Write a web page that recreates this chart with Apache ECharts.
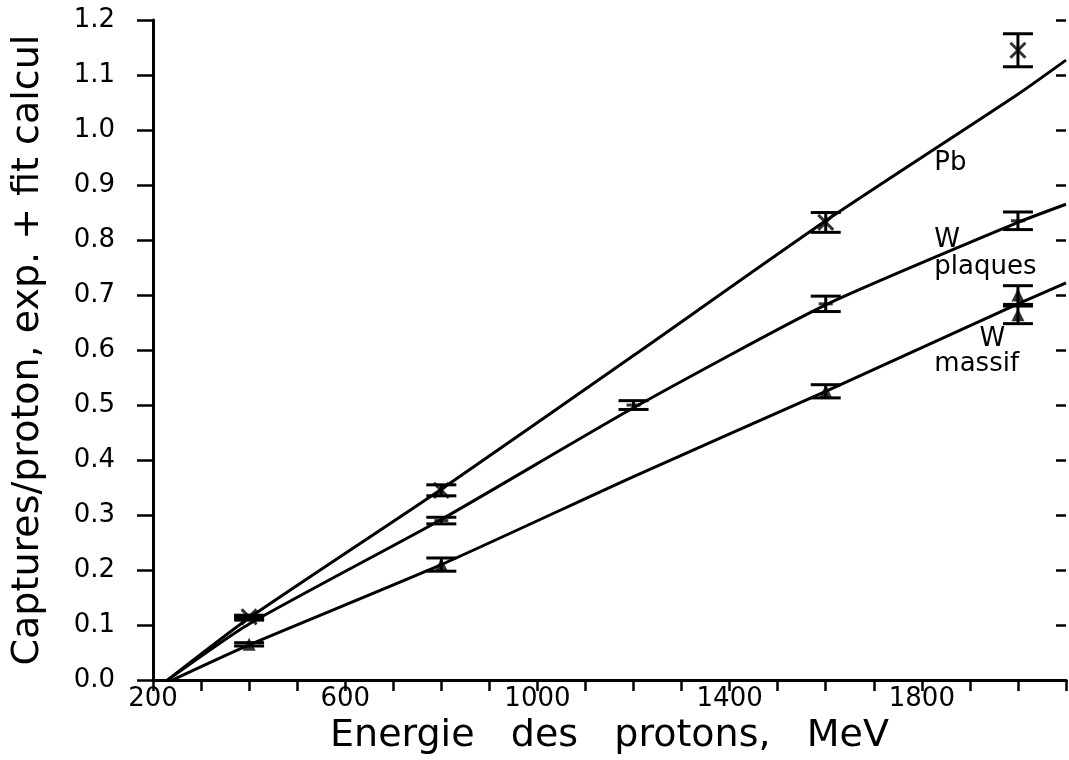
<!DOCTYPE html>
<html>
<head>
<meta charset="utf-8">
<script src="https://cdn.jsdelivr.net/npm/echarts@6/dist/echarts.min.js"></script>
<style>
  html, body { margin: 0; padding: 0; background: #fff; }
  #chart { width: 1069px; height: 760px; }
</style>
</head>
<body>
<div id="chart"></div>
<script>
// fitted curves (calcul)
var pbFitE = [230, 400, 800, 1200, 1600, 2000, 2100];
var pbFit = [0, 0.113, 0.347, 0.59, 0.835, 1.065, 1.127];
var plaqFitE = [230, 400, 800, 1200, 1600, 2000, 2100];
var plaqFit = [0, 0.102, 0.292, 0.495, 0.682, 0.832, 0.865];
var massFitE = [240, 400, 800, 1200, 1600, 2000, 2100];
var massFit = [0, 0.064, 0.21, 0.37, 0.525, 0.684, 0.722];

// measured points (exp.) with half error
var pbE = [400, 800, 1600, 2000];
var pbY = [0.115, 0.345, 0.832, 1.145];
var pbErr = [0.003, 0.01, 0.018, 0.03];
var plaqE = [400, 800, 1200, 1600, 2000];
var plaqY = [0.112, 0.29, 0.50, 0.684, 0.835];
var plaqErr = [0.003, 0.006, 0.008, 0.014, 0.016];
var massE = [400, 800, 1600, 2000, 2000];
var massY = [0.065, 0.21, 0.525, 0.70, 0.664];
var massErr = [0.003, 0.012, 0.012, 0.017, 0.016];

// curve labels
var tagText = ['Pb', 'W', 'plaques', 'W', 'massif'];
var tagE = [1826, 1826, 1826, 1920, 1826];
var tagY = [0.94, 0.80, 0.751, 0.619, 0.574];

var font = 'DejaVu Sans, sans-serif';
var ink = '#000';

function pairs(xs, ys) {
  return xs.map(function(x, i) { return [x, ys[i]]; });
}
function bars(xs, ys, es) {
  return xs.map(function(x, i) { return [x, ys[i] - es[i], ys[i] + es[i]]; });
}

function errorBar(params, api) {
  var x = api.value(0);
  var top = api.coord([x, api.value(2)]);
  var bot = api.coord([x, api.value(1)]);
  var half = 15;
  var st = { stroke: ink, lineWidth: 3 };
  return {
    type: 'group',
    children: [
      { type: 'line', shape: { x1: top[0], y1: top[1], x2: bot[0], y2: bot[1] }, style: st },
      { type: 'line', shape: { x1: top[0] - half, y1: top[1], x2: top[0] + half, y2: top[1] }, style: st },
      { type: 'line', shape: { x1: bot[0] - half, y1: bot[1], x2: bot[0] + half, y2: bot[1] }, style: st }
    ]
  };
}

function tagItem(params, api) {
  var p = api.coord([api.value(0), api.value(1)]);
  return {
    type: 'text', x: p[0], y: p[1],
    style: {
      text: tagText[params.dataIndex], fill: ink, font: '26px ' + font,
      textAlign: 'left', textVerticalAlign: 'middle'
    }
  };
}

function fitLine(xs, ys) {
  return {
    type: 'line', data: pairs(xs, ys), symbol: 'none', smooth: 0.2,
    lineStyle: { color: ink, width: 3 }, z: 3
  };
}
function errSeries(xs, ys, es) {
  return { type: 'custom', renderItem: errorBar, data: bars(xs, ys, es), z: 4 };
}

var axisLineStyle = { lineStyle: { color: ink, width: 3 } };

var chart = echarts.init(document.getElementById('chart'), null, { renderer: 'canvas' });
chart.setOption({
  animation: false,
  backgroundColor: '#fff',
  grid: { left: 153, right: 0, top: 20, bottom: 77, containLabel: false },
  xAxis: [{
    type: 'value', position: 'bottom', min: 200, max: 2100, interval: 100,
    axisLine: axisLineStyle,
    axisTick: { inside: false, length: 11, lineStyle: { color: ink, width: 2.5 } },
    axisLabel: {
      margin: 6, fontSize: 26, color: ink, fontFamily: font,
      formatter: function(v) { return (v - 200) % 400 === 0 && v < 2100 ? String(v) : ''; }
    },
    splitLine: { show: false },
    name: 'Energie   des   protons,   MeV', nameLocation: 'middle', nameGap: 33,
    nameTextStyle: { fontSize: 38, color: ink, fontFamily: font }
  }, {
    type: 'value', position: 'top', min: 200, max: 2100, interval: 100,
    axisLine: axisLineStyle,
    axisTick: { inside: true, length: 8, lineStyle: { color: ink, width: 2.5 } },
    axisLabel: { show: false },
    splitLine: { show: false }
  }],
  yAxis: [{
    type: 'value', position: 'left', min: 0, max: 1.2, interval: 0.1,
    axisLine: { show: true, lineStyle: { color: ink, width: 3 } },
    axisTick: { inside: false, length: 16, lineStyle: { color: ink, width: 2.5 } },
    axisLabel: {
      margin: 38, fontSize: 26, color: ink, fontFamily: font,
      formatter: function(v) { return v.toFixed(1); }
    },
    splitLine: { show: false },
    name: 'Captures/proton, exp. + fit calcul', nameLocation: 'middle', nameGap: 106,
    nameTextStyle: { fontSize: 38, color: ink, fontFamily: font }
  }, {
    type: 'value', position: 'right', min: 0, max: 1.2, interval: 0.1,
    axisLine: { show: false },
    axisTick: { show: true, inside: true, length: 10, lineStyle: { color: ink, width: 2.5 } },
    axisLabel: { show: false },
    splitLine: { show: false }
  }],
  series: [
    fitLine(pbFitE, pbFit),
    fitLine(plaqFitE, plaqFit),
    fitLine(massFitE, massFit),
    errSeries(pbE, pbY, pbErr),
    errSeries(plaqE, plaqY, plaqErr),
    errSeries(massE, massY, massErr),
    {
      type: 'scatter', data: pairs(pbE, pbY), z: 5,
      symbol: 'path://M0,0L10,10M10,0L0,10', symbolSize: 15,
      itemStyle: { color: 'none', borderColor: ink, borderWidth: 3 }
    },
    {
      type: 'scatter', data: pairs(plaqE, plaqY), z: 5,
      symbol: 'rect', symbolSize: [14, 3],
      itemStyle: { color: ink }
    },
    {
      type: 'scatter', data: pairs(massE, massY), z: 5,
      symbol: 'triangle', symbolSize: 13,
      itemStyle: { color: ink }
    },
    { type: 'custom', renderItem: tagItem, data: pairs(tagE, tagY), z: 6 }
  ]
});
window.addEventListener('resize', function() { chart.resize(); });
</script>
</body>
</html>
